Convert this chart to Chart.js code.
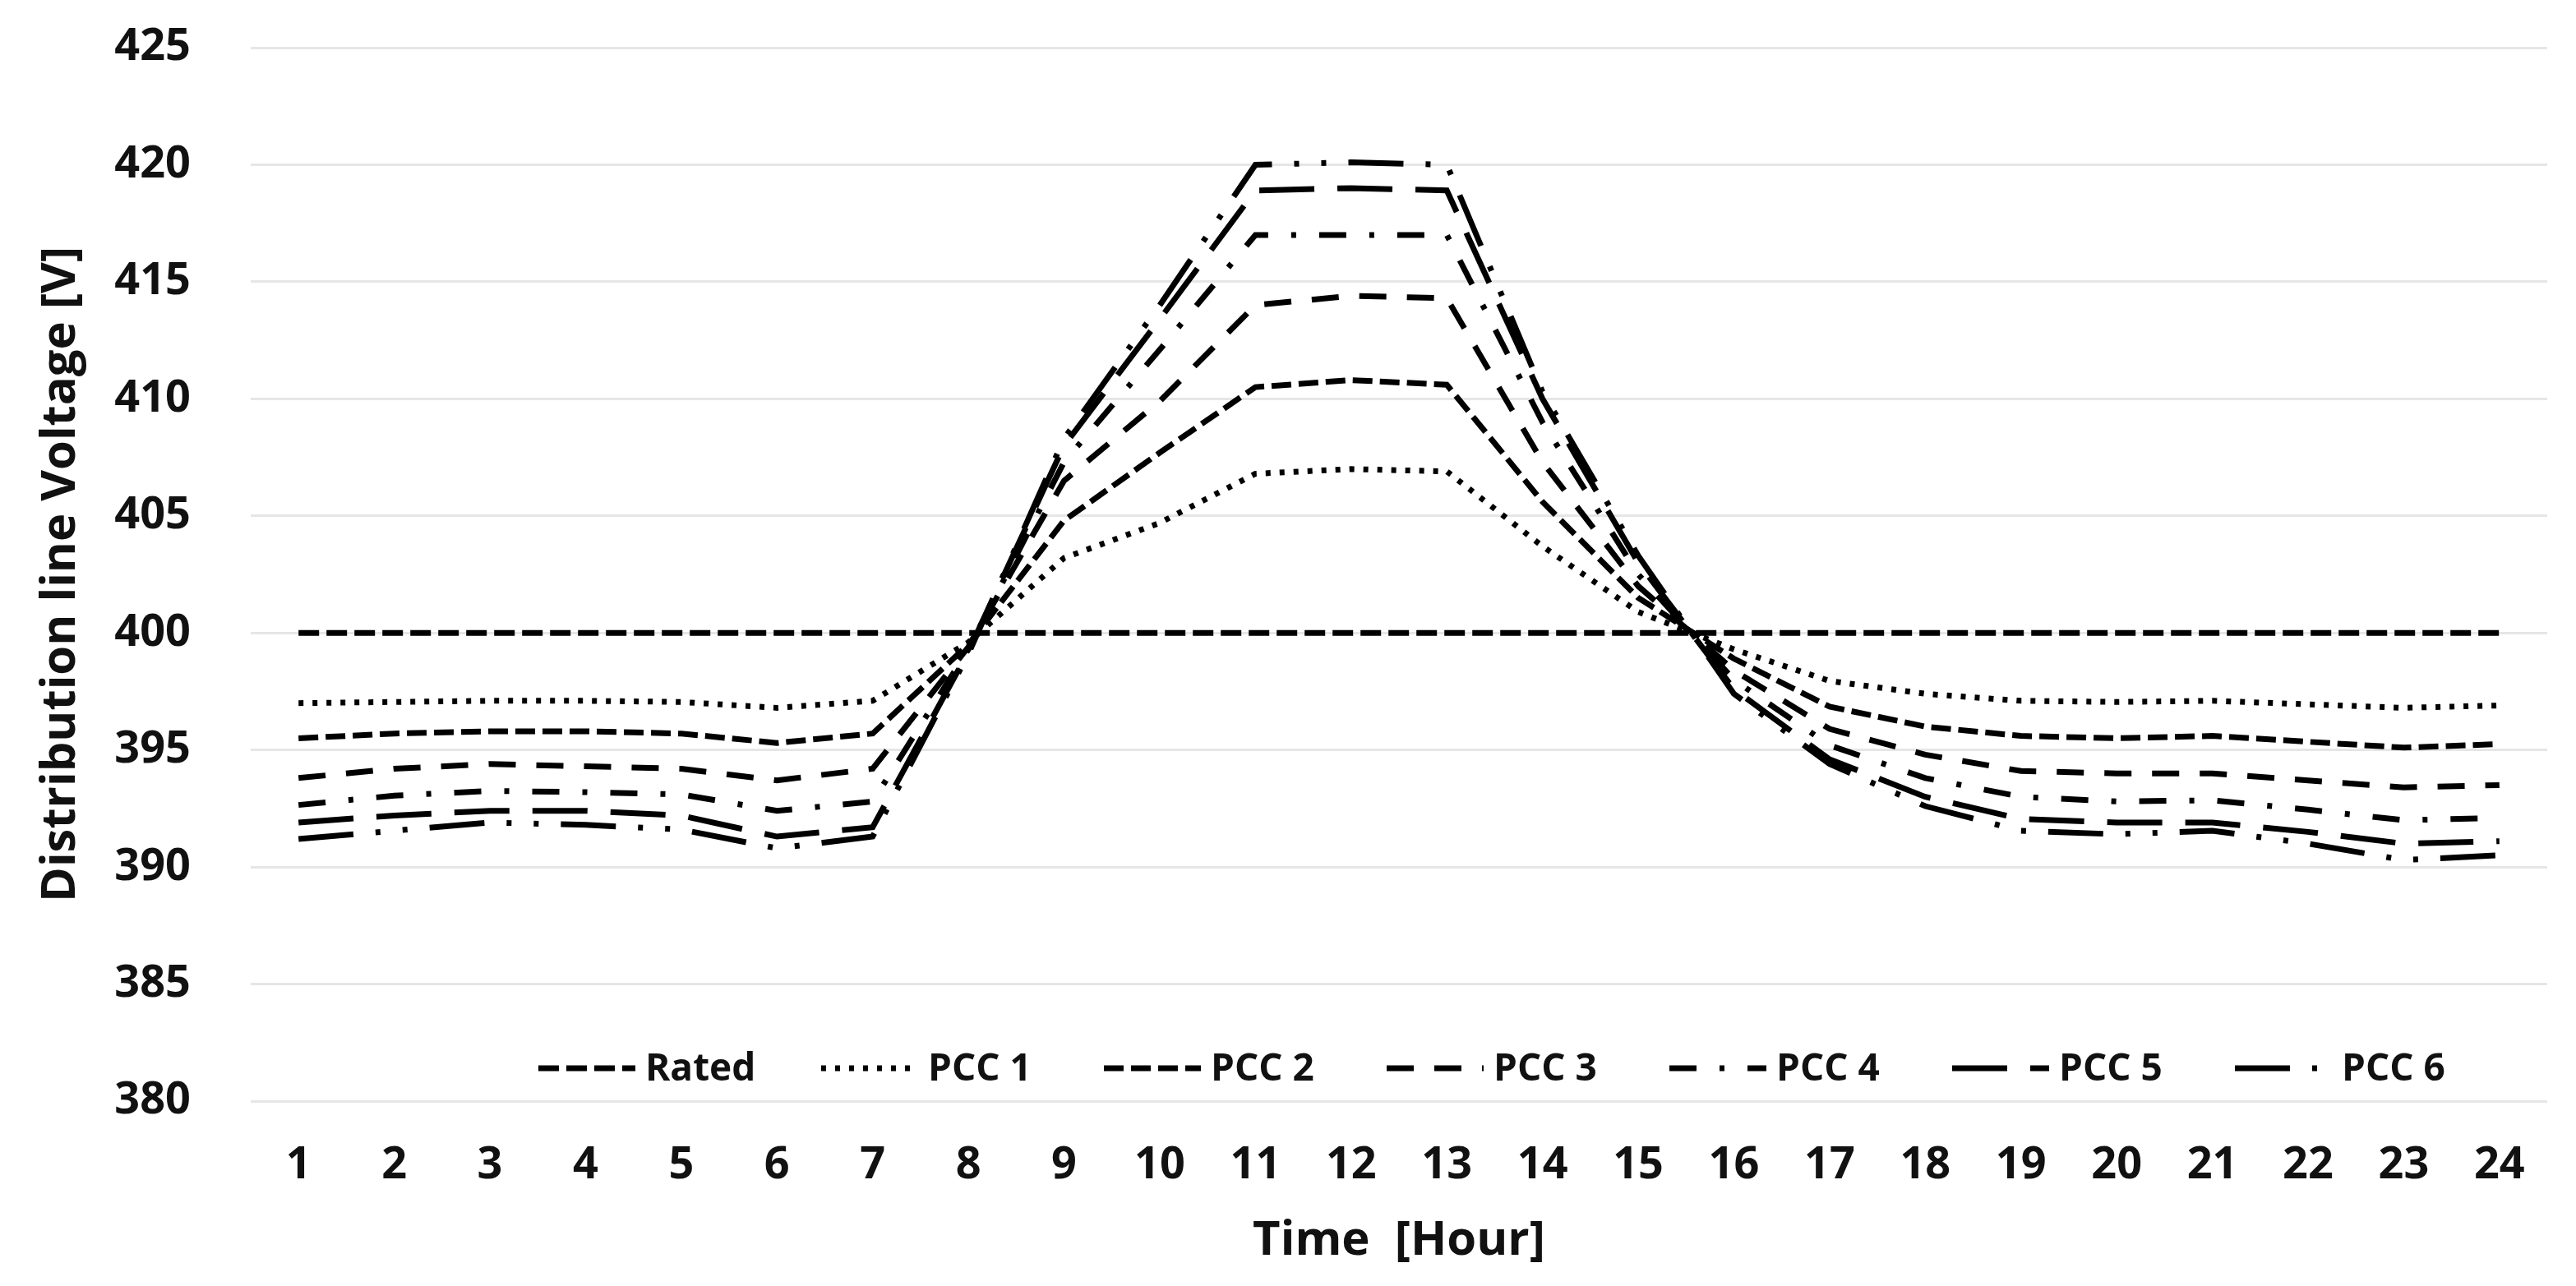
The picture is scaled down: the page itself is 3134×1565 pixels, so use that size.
<!DOCTYPE html>
<html>
<head>
<meta charset="utf-8">
<title>Distribution line voltage</title>
<script src="https://cdn.jsdelivr.net/npm/chart.js@4.4.1/dist/chart.umd.min.js"></script>
<style>
  html, body { margin: 0; padding: 0; background: #fff; }
  #wrap { width: 3134px; height: 1565px; }
</style>
</head>
<body>
<div id="wrap"><canvas id="chart-voltage"></canvas></div>
<script>
// Hours of the day (x axis)
const hours = ['1', '2', '3', '4', '5', '6', '7', '8', '9', '10', '11', '12',
               '13', '14', '15', '16', '17', '18', '19', '20', '21', '22', '23', '24'];

// Voltage per hour [V]
const rated = [400, 400, 400, 400, 400, 400, 400, 400, 400, 400, 400, 400,
               400, 400, 400, 400, 400, 400, 400, 400, 400, 400, 400, 400];
const pcc1 = [397.0, 397.05, 397.1, 397.1, 397.05, 396.8, 397.1, 399.6, 403.2, 404.7, 406.8, 407.0,
              406.9, 403.7, 400.9, 399.3, 397.95, 397.4, 397.1, 397.05, 397.1, 396.95, 396.8, 396.9];
const pcc2 = [395.5, 395.7, 395.8, 395.8, 395.7, 395.3, 395.7, 399.5, 404.8, 407.7, 410.5, 410.8,
              410.6, 405.6, 401.5, 398.9, 396.85, 396.0, 395.6, 395.5, 395.6, 395.35, 395.1, 395.25];
const pcc3 = [393.8, 394.2, 394.4, 394.3, 394.2, 393.7, 394.2, 399.4, 406.5, 409.9, 414.0, 414.4,
              414.3, 407.3, 402.0, 398.4, 395.9, 394.8, 394.1, 394.0, 394.0, 393.7, 393.4, 393.5];
const pcc4 = [392.65, 393.05, 393.25, 393.2, 393.1, 392.4, 392.8, 399.3, 407.3, 412.1, 417.0, 417.0,
              417.0, 409.0, 402.5, 398.0, 395.2, 393.8, 393.0, 392.8, 392.85, 392.45, 392.0, 392.1];
const pcc5 = [391.9, 392.2, 392.4, 392.4, 392.2, 391.3, 391.7, 399.2, 408.0, 413.4, 418.9, 419.0,
              418.9, 410.0, 403.0, 397.6, 394.6, 393.0, 392.05, 391.9, 391.9, 391.5, 391.0, 391.1];
const pcc6 = [391.2, 391.55, 391.9, 391.8, 391.6, 390.8, 391.3, 399.1, 408.3, 414.0, 420.0, 420.1,
              420.0, 410.3, 403.3, 397.4, 394.4, 392.6, 391.55, 391.4, 391.55, 391.0, 390.3, 390.5];

const seriesNames = ['Rated', 'PCC 1', 'PCC 2', 'PCC 3', 'PCC 4', 'PCC 5', 'PCC 6'];

// y axis range
const yMin = 380;
const yMax = 425;
const yStep = 5;

const FONT = '"Open Sans", "Noto Sans", "DejaVu Sans", sans-serif';
const INK = '#111';

// line styles (dash patterns in px)
const dashes = [
    [25, 9],                    // Rated
    [6, 11],                    // PCC 1 - dots
    [24, 9],                    // PCC 2
    [33, 25],                   // PCC 3 - dash
    [33, 28, 6, 28],            // PCC 4 - dash dot
    [67, 28],                   // PCC 5 - long dash
    [67, 27, 6, 27, 6, 27]      // PCC 6 - long dash dot dot
];

// Legend drawn inside the plot, at the bottom, like the original
const insideLegend = {
    id: 'insideLegend',
    afterDraw(chart, args, opts) {
        const ctx = chart.ctx;
        const area = chart.chartArea;
        const y = area.bottom - opts.offsetY;
        let x = area.left + opts.startX;
        ctx.save();
        ctx.font = opts.font;
        ctx.textBaseline = 'middle';
        ctx.fillStyle = opts.color;
        chart.data.datasets.forEach(ds => {
            ctx.beginPath();
            ctx.setLineDash(ds.borderDash || []);
            ctx.lineDashOffset = 0;
            ctx.lineWidth = ds.borderWidth;
            ctx.strokeStyle = ds.borderColor;
            ctx.moveTo(x, y);
            ctx.lineTo(x + opts.sampleWidth, y);
            ctx.stroke();
            ctx.setLineDash([]);
            ctx.fillText(ds.label, x + opts.sampleWidth + opts.textGap, y + 2);
            x += opts.itemWidth;
        });
        ctx.restore();
    }
};

function makeDataset(label, data, dash) {
    return {
        label: label,
        data: data,
        borderColor: '#000',
        borderWidth: 7,
        borderDash: dash,
        borderCapStyle: 'butt',
        borderJoinStyle: 'miter',
        pointRadius: 0,
        fill: false,
        tension: 0
    };
}

const allSeries = [rated, pcc1, pcc2, pcc3, pcc4, pcc5, pcc6];

new Chart(document.getElementById('chart-voltage'), {
    type: 'line',
    data: {
        labels: hours,
        datasets: allSeries.map((d, i) => makeDataset(seriesNames[i], d, dashes[i]))
    },
    options: {
        responsive: true,
        maintainAspectRatio: false,
        animation: false,
        layout: {
            padding: { top: 58, right: 35, bottom: 16, left: 40 }
        },
        plugins: {
            legend: { display: false },
            tooltip: { enabled: false },
            insideLegend: {
                startX: 350,
                offsetY: 40,
                sampleWidth: 118,
                textGap: 12,
                itemWidth: 344,
                font: 'bold 46px ' + FONT,
                color: INK
            }
        },
        scales: {
            x: {
                offset: true,
                grid: { display: false, drawTicks: false },
                border: { display: false },
                ticks: {
                    color: INK,
                    font: { family: FONT, size: 54, weight: 'bold' },
                    padding: 46,
                    maxRotation: 0,
                    autoSkip: false
                },
                title: {
                    display: true,
                    text: 'Time  [Hour]',
                    color: INK,
                    font: { family: FONT, size: 58, weight: 'bold' },
                    padding: { top: 20, bottom: 4 }
                },
                // fixed axis height so the plot bottom sits where the original has it
                afterFit(scale) { scale.height = 209; }
            },
            y: {
                min: yMin,
                max: yMax,
                grid: { color: '#e6e6e6', lineWidth: 3, drawTicks: false },
                border: { display: false },
                ticks: {
                    stepSize: yStep,
                    color: INK,
                    font: { family: FONT, size: 54, weight: 'bold' },
                    padding: 73
                },
                title: {
                    display: true,
                    text: 'Distribution line Voltage [V]',
                    color: INK,
                    font: { family: FONT, size: 58, weight: 'bold' },
                    padding: { top: 0, bottom: 26 }
                },
                // fixed axis width; drop the label padding so the plot top follows layout padding
                afterFit(scale) {
                    scale.width = 265;
                    scale.paddingTop = 0;
                    scale.paddingBottom = 0;
                }
            }
        }
    },
    plugins: [insideLegend]
});
</script>
</body>
</html>
